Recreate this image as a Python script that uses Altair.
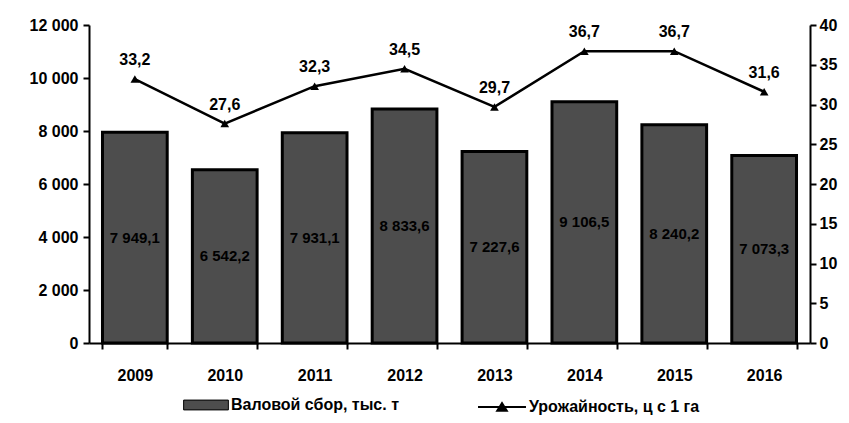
import altair as alt
import pandas as pd

years = ["2009", "2010", "2011", "2012", "2013", "2014", "2015", "2016"]
gross = [7949.1, 6542.2, 7931.1, 8833.6, 7227.6, 9106.5, 8240.2, 7073.3]
yield_ = [33.2, 27.6, 32.3, 34.5, 29.7, 36.7, 36.7, 31.6]

bar_name = "Валовой сбор, тыс. т"
line_name = "Урожайность, ц с 1 га"

df = pd.DataFrame({"year": years, "gross": gross, "yld": yield_,
                   "bname": bar_name, "lname": line_name})

FONT = "Liberation Sans"
FS = 16

x = alt.X("year:N", title=None, sort=years,
          scale=alt.Scale(paddingInner=0.28, paddingOuter=0.15),
          axis=alt.Axis(labelAngle=0, labelFontSize=FS, labelFontWeight="bold",
                        labelFont=FONT, labelColor="black", domainColor="black",
                        domainWidth=2, tickColor="black", tickSize=6, tickWidth=2,
                        labelPadding=18, tickBand="extent"))

left_axis = alt.Axis(values=[0, 2000, 4000, 6000, 8000, 10000, 12000],
                     labelExpr="replace(format(datum.value, ','), ',', ' ')",
                     labelFontSize=FS, labelFontWeight="bold", labelFont=FONT,
                     labelColor="black", domainColor="black", domainWidth=2,
                     tickColor="black", tickSize=6, tickWidth=2, grid=False,
                     labelPadding=5)

right_axis = alt.Axis(orient="right", values=[0, 5, 10, 15, 20, 25, 30, 35, 40],
                      labelFontSize=FS, labelFontWeight="bold", labelFont=FONT,
                      labelColor="black", domainColor="black", domainWidth=2,
                      tickColor="black", tickSize=6, tickWidth=2, grid=False,
                      labelPadding=3)

base = alt.Chart(df)

bars = base.mark_bar(stroke="black", strokeWidth=3).encode(
    x=x,
    y=alt.Y("gross:Q", title=None, scale=alt.Scale(domain=[0, 12000]), axis=left_axis),
    fill=alt.Fill("bname:N", title=None,
                  scale=alt.Scale(domain=[bar_name], range=["#4d4d4d"]),
                  legend=alt.Legend(orient="none", legendX=94, legendY=357,
                                    symbolType="M-1,-0.22L1,-0.22L1,0.22L-1,0.22Z",
                                    symbolSize=2000, symbolStrokeColor="black",
                                    symbolStrokeWidth=1, labelLimit=0,
                                    labelFontSize=FS, labelFontWeight="bold",
                                    labelFont=FONT, labelColor="black",
                                    labelOffset=2)),
)

bar_text = base.transform_calculate(
    half="datum.gross / 2",
    lab="replace(replace(format(datum.gross, ',.1f'), ',', ' '), '.', ',')"
).mark_text(fontSize=15, fontWeight="bold", font=FONT, fill="black").encode(
    x=x,
    y=alt.Y("half:Q", title=None, scale=alt.Scale(domain=[0, 12000]), axis=left_axis),
    text="lab:N",
)

left = alt.layer(bars, bar_text)

line = base.mark_line(color="black", strokeWidth=2.5).encode(
    x=x,
    y=alt.Y("yld:Q", title=None, scale=alt.Scale(domain=[0, 40]), axis=right_axis),
    stroke=alt.Stroke("lname:N", title=None,
                      scale=alt.Scale(domain=[line_name], range=["black"]),
                      legend=alt.Legend(orient="none", legendX=388, legendY=357,
                                        symbolType="M-1,0L1,0M-0.2,0.16L0,-0.16L0.2,0.16Z",
                                        symbolSize=2300, symbolStrokeWidth=2,
                                        symbolFillColor="black", labelLimit=0,
                                        labelFontSize=FS, labelFontWeight="bold",
                                        labelFont=FONT, labelColor="black",
                                        labelOffset=2)),
)

pts = base.mark_point(shape="triangle-up", filled=True, size=75, opacity=1,
                      color="black").encode(
    x=x,
    y=alt.Y("yld:Q", title=None, scale=alt.Scale(domain=[0, 40]), axis=right_axis))

ltext = base.transform_calculate(
    lab="replace(format(datum.yld, '.1f'), '.', ',')"
).mark_text(dy=-19, fontSize=FS, fontWeight="bold", font=FONT, color="black").encode(
    x=x,
    y=alt.Y("yld:Q", title=None, scale=alt.Scale(domain=[0, 40]), axis=right_axis),
    text="lab:N")

right = alt.layer(line, pts, ltext)

chart = alt.layer(left, right).resolve_scale(y="independent").properties(
    width=721, height=318,
    autosize=alt.AutoSizeParams(type="none"),
    padding={"left": 89, "top": 25, "right": 39, "bottom": 80},
    background="white",
).configure_view(stroke=None)

chart.save("out.html", embed_options={"renderer": "svg", "actions": False})
